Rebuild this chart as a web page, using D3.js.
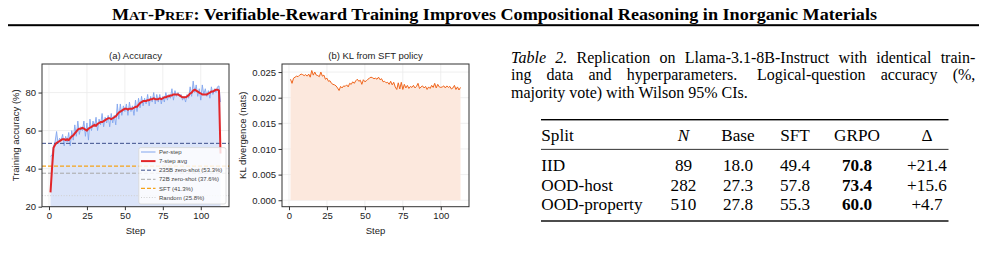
<!DOCTYPE html>
<html>
<head>
<meta charset="utf-8">
<script src="https://cdn.jsdelivr.net/npm/d3@7"></script>
<style>
  body { margin: 0; background: #fff; }
  svg { display: block; }
  .tick text { font-family: "Liberation Sans", Arial, sans-serif; }
</style>
</head>
<body>
<svg id="page" width="987" height="258"></svg>
<script>
// ---- data ----
const perStep = [46.5,47,52,54,59.5,53,56,55,58,52,57,54,59,52,60,55,63,57,65,58,
  62,60,65,57,64,55,66,60,65,62,67,60,66,63,69,62,67,64,68,62,
  69,64,68,63,74,66,74,68,73,70,74,68,75,70,73,68,76,70,77,72,
  78,73,77,74,79,73,78,75,80,74,79,75,79,74,78,75,80,76,79,77,
  82,76,81,78,80,78,79,76,78,75,79,77,83,78,86,80,84,78,82,76,
  84,79,82,78,81,77,83,79,82,80,83,83.5,75];

const avg7 = [27.5,40,51,52.5,53.5,54,54.5,55,55.5,55.5,55,55.5,55,56,57,57.5,58.5,59.5,60.5,61,
  61,61.5,61,60.5,60,61,61.5,62,62.5,63,62.5,63.5,64,64.5,64.5,65,65.5,66,66.5,66.5,
  66,66.5,67,67.5,68.5,69.5,70,70.5,71,71.5,71.5,71,71.5,71.5,71.5,72,72.5,72.5,73.5,74.5,
  75,75.5,75.5,75.5,76,76,76.5,76.5,77,76.5,76.5,76.5,77,76.5,77,77.5,77.5,78,78,78.5,
  78.5,79,79,79,79,78.5,78,77.5,77.5,77.5,78,78.5,79.5,80,81,81.5,81,80.5,80,79.5,
  79,79,79,79,79.5,80,80.5,80.5,81,81.5,81.5,81,48];

const klDiv = [0.0236,0.0228,0.0238,0.0240,0.0242,0.0241,0.0244,0.0246,0.0245,0.0243,
  0.0245,0.0242,0.0246,0.0240,0.0253,0.0244,0.0250,0.0244,0.0243,0.0241,
  0.0250,0.0242,0.0244,0.0236,0.0238,0.0232,0.0233,0.0228,0.0226,0.0225,
  0.0223,0.0219,0.0214,0.0222,0.0219,0.0223,0.0222,0.0225,0.0221,0.0228,
  0.0226,0.0231,0.0228,0.0233,0.0236,0.0232,0.0234,0.0226,0.0235,0.0231,
  0.0233,0.0236,0.0238,0.0240,0.0239,0.0237,0.0238,0.0236,0.0240,0.0235,
  0.0237,0.0231,0.0232,0.0229,0.0230,0.0226,0.0232,0.0225,0.0230,0.0221,
  0.0216,0.0229,0.0217,0.0230,0.0216,0.0226,0.0219,0.0224,0.0218,0.0222,
  0.0220,0.0224,0.0219,0.0222,0.0228,0.0218,0.0221,0.0223,0.0219,0.0222,
  0.0216,0.0221,0.0218,0.0224,0.0220,0.0228,0.0219,0.0226,0.0221,0.0220,
  0.0221,0.0223,0.0219,0.0223,0.0220,0.0222,0.0217,0.0219,0.0224,0.0216,
  0.0221,0.0215,0.0220];

const refNames = ['235B zero-shot (53.3%)', '72B zero-shot (37.6%)', 'SFT (41.3%)', 'Random (25.8%)'];
const refValues = [53.3, 37.6, 41.3, 25.8];

const stepTicks = [0, 25, 50, 75, 100];
const accTicks = [20, 40, 60, 80];
const klTicks = [0, 0.005, 0.010, 0.015, 0.020, 0.025];

const tableHead = ['Split', 'N', 'Base', 'SFT', 'GRPO', '\u0394'];
const splits = ['IID', 'OOD-host', 'OOD-property'];
const nCounts = ['89', '282', '510'];
const baseAcc = ['18.0', '27.3', '27.8'];
const sftAcc = ['49.4', '57.8', '55.3'];
const grpoAcc = ['70.8', '73.4', '60.0'];
const deltas = ['+21.4', '+15.6', '+4.7'];

// caption words; '*' marks italic
const captionLines = [
  ['*Table', '*2.', 'Replication', 'on', 'Llama-3.1-8B-Instruct', 'with', 'identical', 'train-'],
  ['ing', 'data', 'and', 'hyperparameters.', 'Logical-question', 'accuracy', '(%,'],
  ['majority', 'vote)', 'with', 'Wilson', '95%', 'CIs.']
];

// ---- drawing ----
const svg = d3.select('#page');
const sans = '"Liberation Sans", Arial, sans-serif';
const serif = '"Liberation Serif", "Times New Roman", serif';
const fs = 9.5;
const steps = perStep.map((d, i) => i + 1);

// page header
const head = svg.append('text')
  .attr('x', 112).attr('y', 19.5)
  .attr('font-family', serif).attr('font-weight', 'bold')
  .attr('font-size', 16.5).attr('fill', '#000')
  .attr('textLength', 765).attr('lengthAdjust', 'spacingAndGlyphs');
[['M', 16.5], ['AT', 13], ['-P', 16.5], ['REF', 13],
 [': Verifiable-Reward Training Improves Compositional Reasoning in Inorganic Materials', 16.5]]
  .forEach(([t, s]) => head.append('tspan').attr('font-size', s).text(t));
svg.append('rect').attr('x', 8).attr('y', 24.2).attr('width', 971).attr('height', 2).attr('fill', '#000');

function panel(o) {
  const g = svg.append('g');
  const x = d3.scaleLinear().domain([-4.6, 118.6]).range([o.left, o.right]);
  const y = d3.scaleLinear().domain(o.yDomain).range([206.7, 64]);
  const w = o.right - o.left;

  // grid
  g.append('g').selectAll('line').data(stepTicks).join('line')
    .attr('x1', d => x(d)).attr('x2', d => x(d)).attr('y1', 64).attr('y2', 206.7)
    .attr('stroke', '#ebebeb').attr('stroke-width', 0.8);
  g.append('g').selectAll('line').data(o.yTicks).join('line')
    .attr('x1', o.left).attr('x2', o.right).attr('y1', d => y(d)).attr('y2', d => y(d))
    .attr('stroke', '#ebebeb').attr('stroke-width', 0.8);

  o.draw(g, x, y);

  // spines
  g.append('rect').attr('x', o.left).attr('y', 64).attr('width', w).attr('height', 142.7)
    .attr('fill', 'none').attr('stroke', '#333').attr('stroke-width', 1);

  const xa = g.append('g').attr('transform', 'translate(0,206.7)')
    .call(d3.axisBottom(x).tickValues(stepTicks).tickSize(3.5).tickPadding(2.5));
  const ya = g.append('g').attr('transform', `translate(${o.left},0)`)
    .call(d3.axisLeft(y).tickValues(o.yTicks).tickFormat(o.fmt).tickSize(3.5).tickPadding(2.5));
  [xa, ya].forEach(a => {
    a.select('.domain').remove();
    a.selectAll('line').attr('stroke', '#333');
    a.selectAll('text').attr('font-size', fs).attr('fill', '#222');
  });

  const cx = (o.left + o.right) / 2;
  g.append('text').attr('x', cx).attr('y', 59).attr('text-anchor', 'middle')
    .attr('font-family', sans).attr('font-size', fs).attr('fill', '#222').text(o.title);
  g.append('text').attr('x', cx).attr('y', 234).attr('text-anchor', 'middle')
    .attr('font-family', sans).attr('font-size', fs).attr('fill', '#222').text('Step');
  g.append('text').attr('transform', `translate(${o.ylabX},135.3) rotate(-90)`)
    .attr('text-anchor', 'middle').attr('dy', '0.35em')
    .attr('font-family', sans).attr('font-size', fs).attr('fill', '#222').text(o.ylabel);
}

const refStyle = [
  { color: '#3d4f8c', dash: '4,2', w: 1 },
  { color: '#a8a8a8', dash: '4,2', w: 1 },
  { color: '#f5a31a', dash: '4,2', w: 1.1 },
  { color: '#cfcfcf', dash: '1,1.7', w: 1 }
];

panel({
  left: 42, right: 229, yDomain: [20, 95], yTicks: accTicks, fmt: d3.format('d'),
  title: '(a) Accuracy', ylabel: 'Training accuracy (%)', ylabX: 16,
  draw(g, x, y) {
    g.append('path').datum(perStep)
      .attr('d', d3.area().x((d, i) => x(steps[i])).y0(y(20)).y1(d => y(d)))
      .attr('fill', '#dbe4f9');
    g.append('path').datum(perStep)
      .attr('d', d3.line().x((d, i) => x(steps[i])).y(d => y(d)))
      .attr('fill', 'none').attr('stroke', '#82a6ee').attr('stroke-width', 0.9);
    g.append('g').selectAll('line').data(refValues).join('line')
      .attr('x1', x.range()[0]).attr('x2', x.range()[1])
      .attr('y1', d => y(d)).attr('y2', d => y(d))
      .attr('stroke', (d, i) => refStyle[i].color)
      .attr('stroke-dasharray', (d, i) => refStyle[i].dash)
      .attr('stroke-width', (d, i) => refStyle[i].w);
    g.append('path').datum(avg7)
      .attr('d', d3.line().x((d, i) => x(steps[i])).y(d => y(d)))
      .attr('fill', 'none').attr('stroke', '#e2262a').attr('stroke-width', 2)
      .attr('stroke-linejoin', 'round');

    // legend
    const lg = g.append('g');
    lg.append('rect').attr('x', 138.8).attr('y', 147.6).attr('width', 87.2).attr('height', 56.4)
      .attr('rx', 2).attr('fill', '#fff').attr('fill-opacity', 0.82)
      .attr('stroke', '#d6d6d6').attr('stroke-width', 0.8);
    const items = [
      { name: 'Per-step', color: '#82a6ee', dash: null, w: 1 },
      { name: '7-step avg', color: '#e2262a', dash: null, w: 2 }
    ].concat(refNames.map((n, i) => ({ name: n, color: refStyle[i].color, dash: refStyle[i].dash, w: refStyle[i].w })));
    const row = lg.selectAll('g').data(items).join('g')
      .attr('transform', (d, i) => `translate(0,${152 + i * 9.1})`);
    row.append('line').attr('x1', 141).attr('x2', 155.5)
      .attr('stroke', d => d.color).attr('stroke-width', d => d.w)
      .attr('stroke-dasharray', d => d.dash);
    row.append('text').attr('x', 159).attr('dy', '0.35em')
      .attr('font-family', sans).attr('font-size', 6).attr('fill', '#444').text(d => d.name);
  }
});

panel({
  left: 282, right: 469, yDomain: [-0.00126, 0.02657], yTicks: klTicks, fmt: d3.format('.3f'),
  title: '(b) KL from SFT policy', ylabel: 'KL divergence (nats)', ylabX: 242.7,
  draw(g, x, y) {
    g.append('path').datum(klDiv)
      .attr('d', d3.area().x((d, i) => x(steps[i])).y0(y(0)).y1(d => y(d)))
      .attr('fill', '#fce8dd');
    g.append('path').datum(klDiv)
      .attr('d', d3.line().x((d, i) => x(steps[i])).y(d => y(d)))
      .attr('fill', 'none').attr('stroke', '#f0651c').attr('stroke-width', 1);
  }
});

// caption: words placed one by one, first two lines justified
const capLeft = 511, capRight = 975.3, capSize = 16;
captionLines.forEach((words, li) => {
  const yy = 62.5 + li * 17.6;
  const nodes = words.map(wd => {
    const it = wd.startsWith('*');
    return svg.append('text').attr('y', yy)
      .attr('font-family', serif).attr('font-size', capSize).attr('fill', '#000')
      .attr('font-style', it ? 'italic' : null).text(it ? wd.slice(1) : wd);
  });
  const widths = nodes.map(n => n.node().getComputedTextLength());
  // sentence end gets a wider gap, as TeX does
  const weights = words.slice(0, -1).map(wd => /\.$/.test(wd) && wd !== '*2.' ? 1.3 : 1);
  let gap = capSize * 0.25;
  if (li < 2) {
    const free = (capRight - capLeft) - d3.sum(widths);
    gap = free / d3.sum(weights);
  }
  let cx = capLeft;
  nodes.forEach((n, i) => {
    n.attr('x', cx);
    cx += widths[i] + (i < weights.length ? gap * weights[i] : 0);
  });
});

// table
const colX = [541.3, 683.5, 738, 795, 857, 927];
const tg = svg.append('g').attr('font-family', serif).attr('font-size', 17.2).attr('fill', '#000');
tg.append('rect').attr('x', 541).attr('y', 119).attr('width', 407.5).attr('height', 1.4);
tg.append('rect').attr('x', 541).attr('y', 148.9).attr('width', 407.5).attr('height', 0.8);
tg.append('rect').attr('x', 541).attr('y', 220.3).attr('width', 407.5).attr('height', 1.4);
tableHead.forEach((h, i) => {
  tg.append('text').attr('x', colX[i]).attr('y', 141.3)
    .attr('text-anchor', i === 0 ? 'start' : 'middle')
    .attr('font-style', h === 'N' ? 'italic' : null).text(h);
});
const cols = [splits, nCounts, baseAcc, sftAcc, grpoAcc, deltas];
splits.forEach((s, r) => {
  cols.forEach((c, i) => {
    tg.append('text').attr('x', colX[i]).attr('y', 171.3 + r * 19.3)
      .attr('text-anchor', i === 0 ? 'start' : 'middle')
      .attr('font-weight', i === 4 ? 'bold' : null).text(c[r]);
  });
});
</script>
</body>
</html>
